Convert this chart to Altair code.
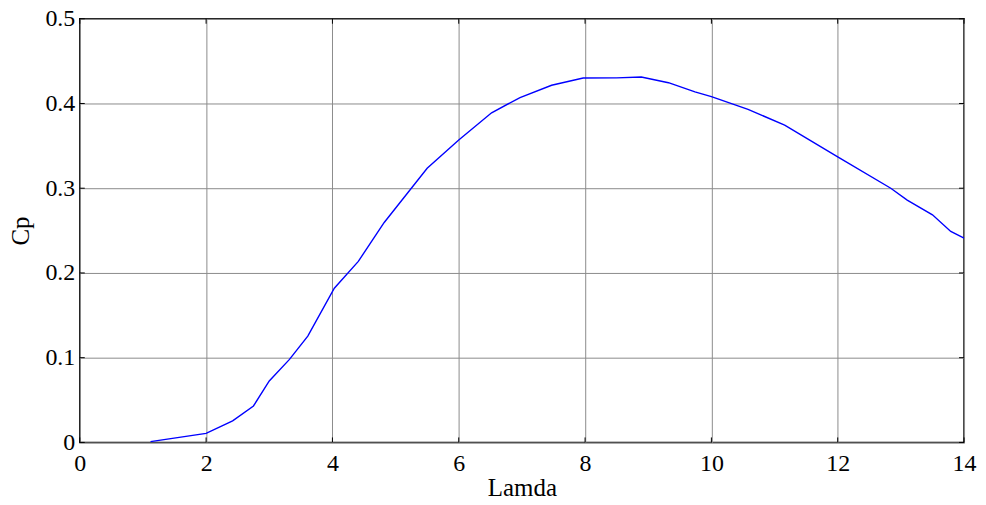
import altair as alt
import pandas as pd

lamda = [1.12, 2.0, 2.42, 2.75, 3.0, 3.32, 3.61, 4.03, 4.41, 4.82, 5.5, 6.0,
         6.52, 6.97, 7.47, 7.97, 8.5, 8.89, 9.32, 9.74, 10.0, 10.58, 11.16,
         11.55, 12.0, 12.84, 13.1, 13.5, 13.79, 14.0]
cp = [0.001, 0.0106, 0.0254, 0.043, 0.0725, 0.098, 0.1255, 0.182, 0.2137,
      0.2596, 0.3235, 0.3568, 0.389, 0.407, 0.4215, 0.430, 0.4302, 0.4313,
      0.4245, 0.4137, 0.408, 0.393, 0.3745, 0.357, 0.337, 0.300, 0.286,
      0.2686, 0.249, 0.241]

x_ticks = [0, 2, 4, 6, 8, 10, 12, 14]
y_ticks = [0, 0.1, 0.2, 0.3, 0.4, 0.5]

W, H = 887, 425
FONT = "Liberation Serif"

df = pd.DataFrame({"lamda": lamda, "cp": cp})
xt = pd.DataFrame({"t": x_ticks})
yt = pd.DataFrame({"t": y_ticks})

xscale = alt.Scale(domain=[0, 14], nice=False, zero=False)
yscale = alt.Scale(domain=[0, 0.5], nice=False, zero=False)

common = dict(grid=True, ticks=False, tickSize=0, domain=False, labelFlush=False,
              labelFont=FONT, titleFont=FONT, labelFontSize=24, titleFontSize=25,
              labelColor="black", titleColor="black", titleFontWeight="normal",
              gridColor="#8c8c8c", gridWidth=1, gridOpacity=1, labelOverlap=False)

xaxis = alt.Axis(values=x_ticks, format="d", labelPadding=9, titlePadding=0, **common)
yaxis = alt.Axis(values=y_ticks, format="~g", labelPadding=5, titlePadding=11, **common)

line = alt.Chart(df).mark_line(color="#0000ff", strokeWidth=1.4, clip=True).encode(
    x=alt.X("lamda:Q", scale=xscale, title="Lamda", axis=xaxis),
    y=alt.Y("cp:Q", scale=yscale, title="Cp", axis=yaxis),
)

tick_len = 5
bottom_ticks = alt.Chart(xt).mark_rule(color="black", strokeWidth=1).encode(
    x=alt.X("t:Q", scale=xscale, title="Lamda", axis=xaxis), y=alt.value(H), y2=alt.value(H - tick_len))
top_ticks = alt.Chart(xt).mark_rule(color="black", strokeWidth=1).encode(
    x=alt.X("t:Q", scale=xscale, title="Lamda", axis=xaxis), y=alt.value(0), y2=alt.value(tick_len))
left_ticks = alt.Chart(yt).mark_rule(color="black", strokeWidth=1).encode(
    y=alt.Y("t:Q", scale=yscale, title="Cp", axis=yaxis), x=alt.value(0), x2=alt.value(tick_len))
right_ticks = alt.Chart(yt).mark_rule(color="black", strokeWidth=1).encode(
    y=alt.Y("t:Q", scale=yscale, title="Cp", axis=yaxis), x=alt.value(W), x2=alt.value(W - tick_len))

chart = alt.layer(line, bottom_ticks, top_ticks, left_ticks, right_ticks).properties(
    width=W, height=H,
    autosize=alt.AutoSizeParams(type="none"),
    padding={"left": 72, "top": 10, "right": 14, "bottom": 62},
    background="white",
).configure_view(
    stroke="black", strokeWidth=1.5
)

chart.save("out.html", embed_options={"renderer": "svg", "actions": False})
